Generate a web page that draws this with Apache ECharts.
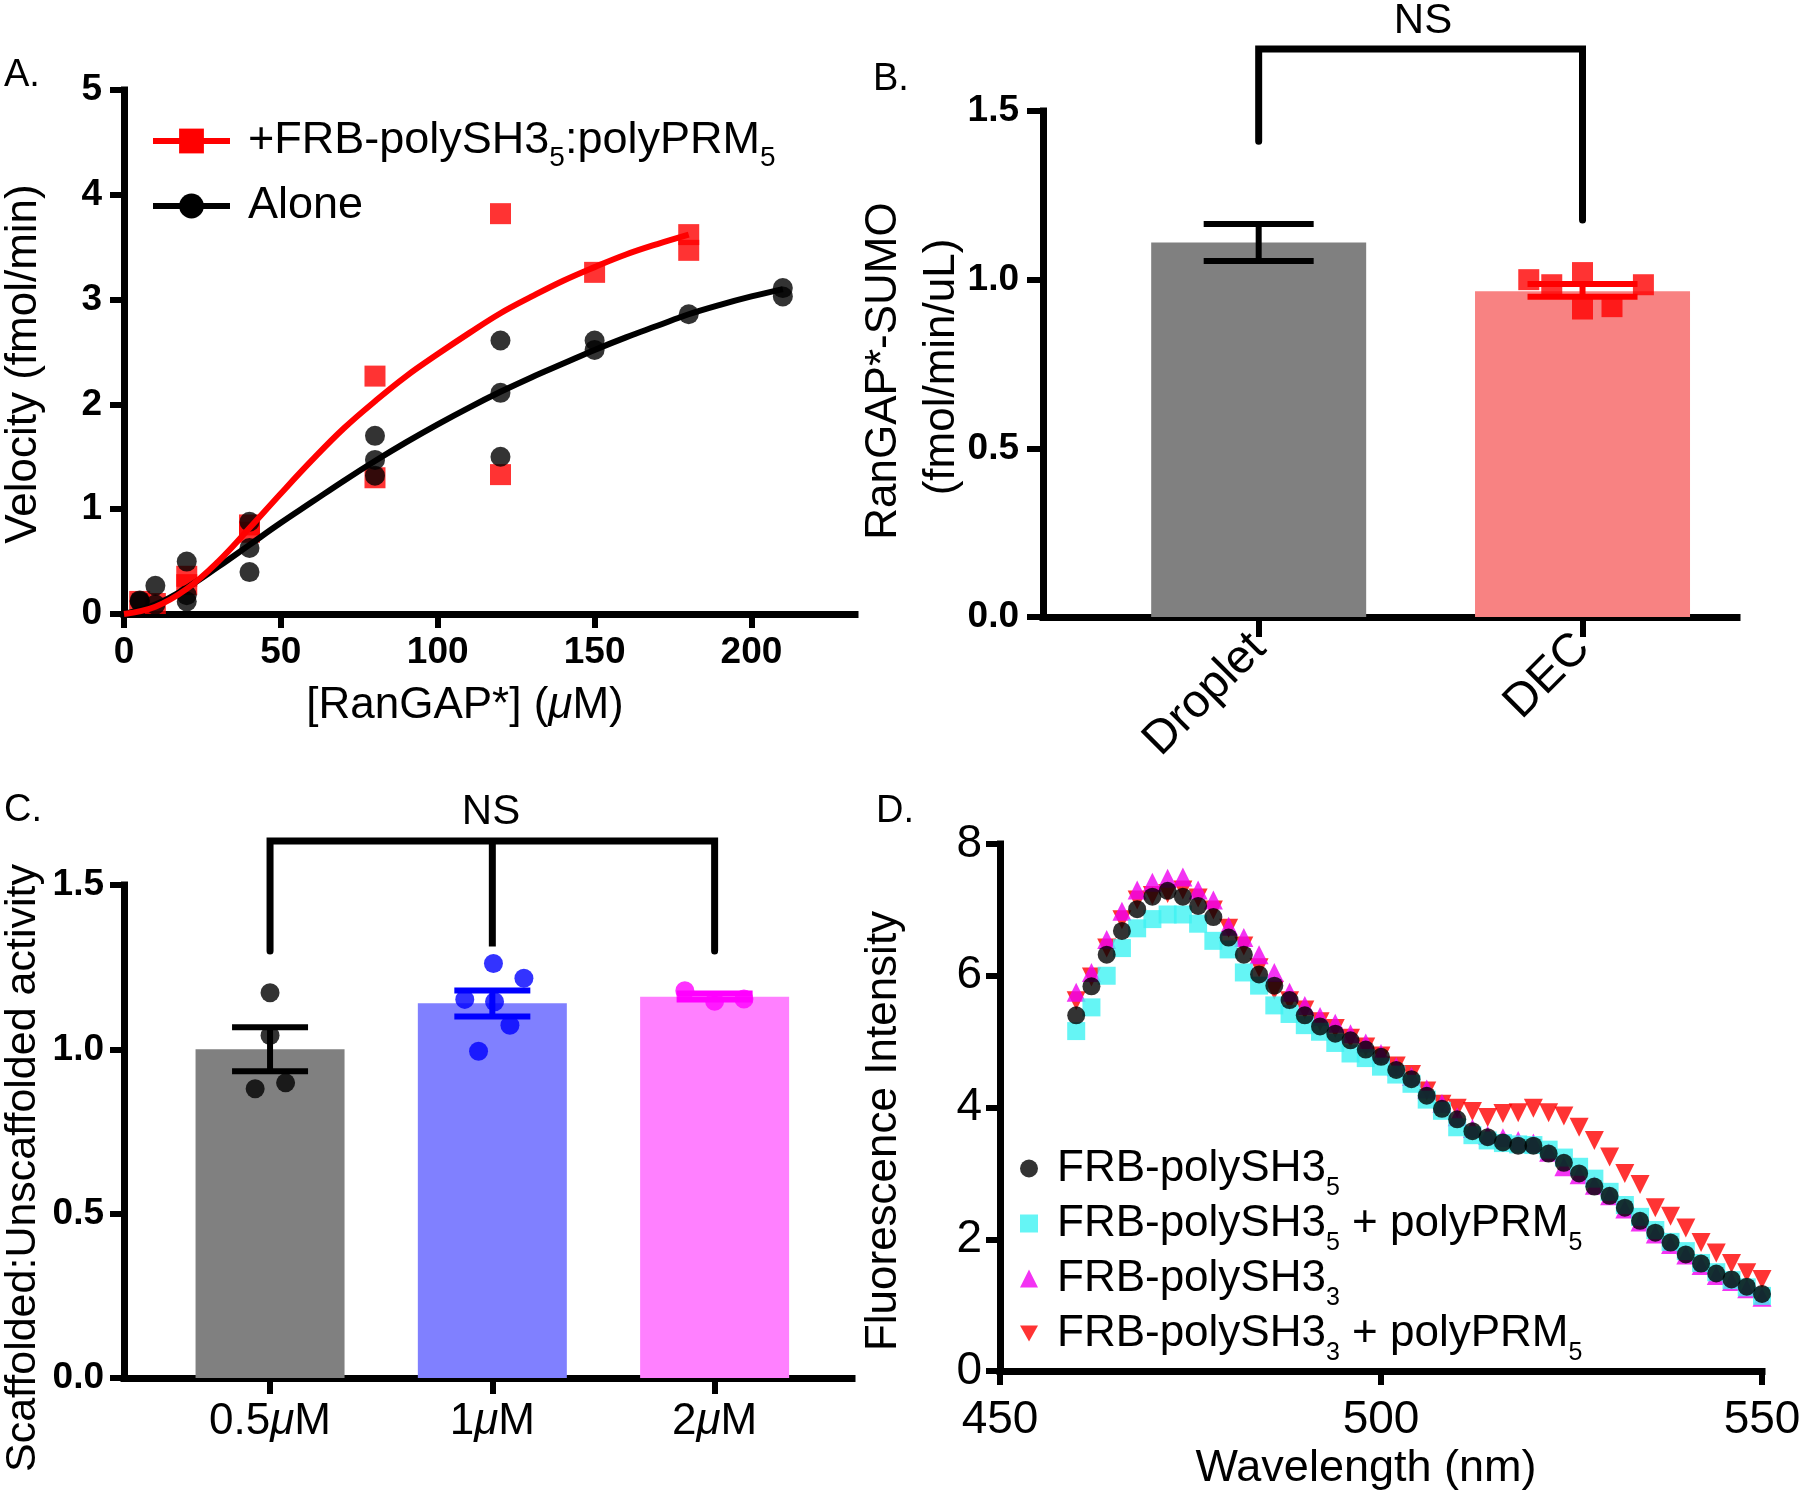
<!DOCTYPE html>
<html>
<head>
<meta charset="utf-8">
<script src="https://cdn.jsdelivr.net/npm/echarts@6/dist/echarts.min.js"></script>
<style>
html,body{margin:0;padding:0;background:#fff;}
#c{width:1800px;height:1495px;}
</style>
</head>
<body>
<div id="c"></div>
<script>
// ---------------- Panel A data ----------------
const aXTicks = [0, 50, 100, 150, 200];
const aNames = ['+FRB-polySH3_5:polyPRM_5', 'Alone'];
const aScafX = [5, 10, 20, 20, 40, 40, 80, 80, 120, 120, 150, 180, 180];
const aScafY = [0.12, 0.10, 0.28, 0.36, 0.78, 0.85, 2.27, 1.30, 3.82, 1.33, 3.26, 3.62, 3.47];
const aAloneX = [5, 5, 10, 10, 20, 20, 20, 40, 40, 40, 80, 80, 80, 120, 120, 120, 150, 150, 180, 210, 210];
const aAloneY = [0.13, 0.12, 0.27, 0.09, 0.50, 0.18, 0.12, 0.88, 0.63, 0.40, 1.70, 1.47, 1.32, 2.61, 2.11, 1.50, 2.61, 2.52, 2.86, 3.11, 3.03];
const aFitScafX = [0, 10, 20, 30, 40, 50, 60, 70, 80, 90, 100, 110, 120, 130, 140, 150, 160, 170, 180];
const aFitScafY = [0, 0.07, 0.24, 0.50, 0.82, 1.15, 1.47, 1.77, 2.03, 2.27, 2.48, 2.68, 2.87, 3.03, 3.18, 3.31, 3.43, 3.53, 3.62];
const aFitAloneX = [0, 10, 20, 30, 40, 50, 60, 70, 80, 90, 100, 110, 120, 130, 140, 150, 160, 170, 180, 190, 200, 210];
const aFitAloneY = [0, 0.09, 0.25, 0.45, 0.66, 0.87, 1.07, 1.27, 1.46, 1.64, 1.81, 1.97, 2.12, 2.26, 2.39, 2.52, 2.64, 2.75, 2.86, 2.95, 3.03, 3.10];

// ---------------- Panel B data ----------------
const bCategories = ['Droplet', 'DEC'];
const bMeans = [1.11, 0.966];
const bErrLow = [1.055, 0.949];
const bErrHigh = [1.165, 0.987];
const bDecPoints = [1.0, 0.985, 1.021, 0.913, 0.92, 0.985];
const bDecJitter = [-0.166, -0.095, 0, 0, 0.091, 0.188];
const bBracketX = [1, 1, 2, 2];
const bBracketY = [1.41, 1.684, 1.684, 1.177];

// ---------------- Panel C data ----------------
const cCategories = ['0.5μM', '1μM', '2μM'];
const cMeans = [1.0, 1.14, 1.16];
const cErrLow = [0.933, 1.10, 1.152];
const cErrHigh = [1.067, 1.179, 1.170];
const c05Points = [1.172, 1.042, 0.88, 0.898];
const c05Jitter = [0, 0, -0.067, 0.07];
const c1Points = [1.261, 1.216, 1.152, 1.145, 1.073, 0.994];
const c1Jitter = [0.005, 0.142, -0.124, 0.01, 0.079, -0.062];
const c2Points = [1.178, 1.146, 1.153];
const c2Jitter = [-0.134, 0, 0.132];
const cBracketX = [1, 1, 2, 2, 2, 3, 3];
const cBracketY = [1.299, 1.634, 1.634, 1.313, 1.634, 1.634, 1.299];

// ---------------- Panel D data ----------------
const dNames = ['FRB-polySH3_5', 'FRB-polySH3_5 + polyPRM_5', 'FRB-polySH3_3', 'FRB-polySH3_3 + polyPRM_5'];
const dWave = [460, 462, 464, 466, 468, 470, 472, 474, 476, 478,
               480, 482, 484, 486, 488, 490, 492, 494, 496, 498,
               500, 502, 504, 506, 508, 510, 512, 514, 516, 518,
               520, 522, 524, 526, 528, 530, 532, 534, 536, 538,
               540, 542, 544, 546, 548, 550];
const dSH35 = [5.40, 5.84, 6.32, 6.68, 7.01, 7.20, 7.29, 7.20, 7.06, 6.89,
               6.58, 6.32, 6.02, 5.85, 5.63, 5.40, 5.23, 5.12, 5.02, 4.88,
               4.77, 4.57, 4.43, 4.18, 3.98, 3.82, 3.64, 3.55, 3.47, 3.42,
               3.42, 3.30, 3.16, 3.00, 2.80, 2.66, 2.48, 2.28, 2.10, 1.95,
               1.77, 1.63, 1.48, 1.39, 1.28, 1.17];
const dSH35PRM = [5.16, 5.52, 6.00, 6.42, 6.72, 6.86, 6.93, 6.93, 6.79, 6.53,
                  6.40, 6.05, 5.85, 5.55, 5.42, 5.25, 5.15, 4.98, 4.82, 4.75,
                  4.62, 4.50, 4.36, 4.12, 3.95, 3.70, 3.58, 3.50, 3.46, 3.44,
                  3.43, 3.36, 3.24, 3.10, 2.92, 2.72, 2.52, 2.34, 2.14, 1.96,
                  1.82, 1.64, 1.50, 1.38, 1.27, 1.14];
const dSH33 = [5.75, 6.05, 6.55, 6.98, 7.30, 7.42, 7.48, 7.50, 7.30, 7.15,
               6.75, 6.58, 6.32, 6.05, 5.75, 5.55, 5.38, 5.28, 5.12, 4.98,
               4.82, 4.62, 4.47, 4.28, 4.06, 3.86, 3.68, 3.58, 3.54, 3.50,
               3.46, 3.32, 3.10, 2.98, 2.82, 2.66, 2.46, 2.26, 2.08, 1.92,
               1.76, 1.60, 1.45, 1.36, 1.25, 1.12];
const dSH33PRM = [5.62, 5.98, 6.42, 6.85, 7.15, 7.22, 7.25, 7.30, 7.18, 7.00,
                  6.72, 6.45, 6.12, 5.78, 5.62, 5.48, 5.30, 5.20, 5.05, 4.92,
                  4.78, 4.63, 4.50, 4.25, 4.05, 3.99, 3.94, 3.85, 3.91, 3.92,
                  3.99, 3.92, 3.87, 3.70, 3.50, 3.25, 3.00, 2.83, 2.48, 2.35,
                  2.17, 1.95, 1.79, 1.63, 1.49, 1.39];

// ---------------- styling ----------------
const FF = '"Liberation Sans", Arial, Helvetica, sans-serif';
const BLACK = '#000';
const RED = '#ff0000';
const B_BAR_COLORS = ['#808080', '#f88282'];
const B_ERR_COLORS = ['#000000', '#ff0000'];
const C_BAR_COLORS = ['#808080', '#8080ff', '#ff80ff'];
const C_PT_COLORS = ['#000000', '#0000ff', '#ff00ff'];
const D_COLORS = ['#000000', '#3ff3f3', '#f000f0', '#ff0000'];
const D_ICONS = ['circle', 'rect', 'triangle', 'path://M0,0 L20,0 L10,18 Z'];

const zip = (xs, ys) => xs.map((x, i) => [x, ys[i]]);
const subFmt = name => name.replace(/_(\d)/g, '{s|$1}');

function axisLine() { return { show: true, onZero: false, lineStyle: { color: BLACK, width: 7, cap: 'square' } }; }
function axisTick(len, custom) {
  const t = { show: true, length: len, lineStyle: { color: BLACK, width: 6 } };
  if (custom) t.customValues = custom;
  return t;
}
function boldLabel(margin, extra) {
  return Object.assign({ color: BLACK, fontFamily: FF, fontWeight: 'bold', fontSize: 37, margin: margin }, extra || {});
}
function regLabel(size, margin, extra) {
  return Object.assign({ color: BLACK, fontFamily: FF, fontSize: size, margin: margin }, extra || {});
}

function errRender(capHalf, colors) {
  return function (params, api) {
    const x = api.value(0), lo = api.value(1), hi = api.value(2);
    const pLo = api.coord([x, lo]), pHi = api.coord([x, hi]);
    const st = { stroke: colors[params.dataIndex], lineWidth: 6 };
    return {
      type: 'group',
      children: [
        { type: 'line', shape: { x1: pLo[0], y1: pLo[1], x2: pHi[0], y2: pHi[1] }, style: st },
        { type: 'line', shape: { x1: pLo[0] - capHalf, y1: pLo[1], x2: pLo[0] + capHalf, y2: pLo[1] }, style: st },
        { type: 'line', shape: { x1: pHi[0] - capHalf, y1: pHi[1], x2: pHi[0] + capHalf, y2: pHi[1] }, style: st }
      ]
    };
  };
}

function txt(text, x, y, size, opts) {
  opts = opts || {};
  return {
    type: 'text', x: x, y: y, rotation: opts.rotation || 0, z: 100,
    style: {
      text: text, fill: BLACK, fontFamily: FF, fontSize: size,
      fontWeight: opts.weight || 'normal',
      align: opts.align || 'center', verticalAlign: 'middle',
      rich: { i: { fontStyle: 'italic', fontSize: size, fontFamily: FF, fill: BLACK } }
    }
  };
}

const option = {
  animation: false,
  backgroundColor: '#fff',
  grid: [
    { left: 124, top: 90, width: 731, height: 524, outerBoundsMode: 'none' },
    { left: 1043, top: 111, width: 694, height: 506, outerBoundsMode: 'none' },
    { left: 124, top: 885, width: 728, height: 493, outerBoundsMode: 'none' },
    { left: 1000, top: 844, width: 762, height: 527, outerBoundsMode: 'none' }
  ],
  xAxis: [
    { gridIndex: 0, type: 'value', min: 0, max: 233,
      axisLine: axisLine(), axisTick: axisTick(14, aXTicks), splitLine: { show: false },
      axisLabel: boldLabel(20, { customValues: aXTicks }) },
    { gridIndex: 1, type: 'value', min: 0.334, max: 2.477,
      axisLine: axisLine(), axisTick: axisTick(20, [1, 2]), splitLine: { show: false },
      axisLabel: regLabel(47, 24, { customValues: [1, 2], rotate: 45,
        formatter: v => bCategories[Math.round(v) - 1] || '' }) },
    { gridIndex: 2, type: 'value', min: 0.343, max: 3.618,
      axisLine: axisLine(), axisTick: axisTick(16, [1, 2, 3]), splitLine: { show: false },
      axisLabel: regLabel(44, 22, { customValues: [1, 2, 3],
        formatter: v => (cCategories[Math.round(v) - 1] || '').replace('μ', '{i|μ}'),
        rich: { i: { fontStyle: 'italic', fontSize: 44, fontFamily: FF, color: BLACK } } }) },
    { gridIndex: 3, type: 'value', min: 450, max: 550, interval: 50,
      axisLine: axisLine(), axisTick: axisTick(14), splitLine: { show: false },
      axisLabel: regLabel(46, 26) }
  ],
  yAxis: [
    { gridIndex: 0, type: 'value', min: 0, max: 5, interval: 1,
      axisLine: axisLine(), axisTick: axisTick(14), splitLine: { show: false },
      axisLabel: boldLabel(22) },
    { gridIndex: 1, type: 'value', min: 0, max: 1.5, interval: 0.5,
      axisLine: axisLine(), axisTick: axisTick(16), splitLine: { show: false },
      axisLabel: boldLabel(24, { formatter: v => v.toFixed(1) }) },
    { gridIndex: 2, type: 'value', min: 0, max: 1.5, interval: 0.5,
      axisLine: axisLine(), axisTick: axisTick(14), splitLine: { show: false },
      axisLabel: boldLabel(20, { formatter: v => v.toFixed(1) }) },
    { gridIndex: 3, type: 'value', min: 0, max: 8, interval: 2,
      axisLine: axisLine(), axisTick: axisTick(14), splitLine: { show: false },
      axisLabel: regLabel(46, 18) }
  ],
  legend: [
    { data: aNames, orient: 'vertical', left: 145, top: 105,
      itemWidth: 77, itemHeight: 31, itemGap: 10, selectedMode: false,
      lineStyle: { width: 6 },
      formatter: subFmt,
      textStyle: { color: BLACK, fontFamily: FF, fontSize: 45, lineHeight: 48, padding: [0, 0, 0, 13],
        rich: { s: { fontSize: 28, lineHeight: 20, padding: [34, 0, 0, 0], fontFamily: FF, color: BLACK } } } },
    { data: dNames.map((n, i) => ({ name: n, icon: D_ICONS[i] })), orient: 'vertical', left: 1015, top: 1131,
      itemWidth: 18, itemHeight: 18, itemGap: -10, selectedMode: false,
      formatter: subFmt,
      textStyle: { color: BLACK, fontFamily: FF, fontSize: 44, lineHeight: 46, padding: [0, 0, 0, 14],
        rich: { s: { fontSize: 25, lineHeight: 20, padding: [40, 0, 0, 0], fontFamily: FF, color: BLACK } } } }
  ],
  series: [
    // ---- Panel A ----
    { type: 'line', name: aNames[1], xAxisIndex: 0, yAxisIndex: 0, data: zip(aFitAloneX, aFitAloneY),
      smooth: 0.4, symbol: 'circle', symbolSize: 20, showSymbol: false, silent: true,
      lineStyle: { color: BLACK, width: 6 }, itemStyle: { color: BLACK } },
    { type: 'line', name: aNames[0], xAxisIndex: 0, yAxisIndex: 0, data: zip(aFitScafX, aFitScafY),
      smooth: 0.4, symbol: 'rect', symbolSize: 20, showSymbol: false, silent: true,
      lineStyle: { color: RED, width: 6 }, itemStyle: { color: RED } },
    { type: 'scatter', xAxisIndex: 0, yAxisIndex: 0, data: zip(aScafX, aScafY),
      symbol: 'rect', symbolSize: 21, itemStyle: { color: RED }, silent: true },
    { type: 'scatter', xAxisIndex: 0, yAxisIndex: 0, data: zip(aAloneX, aAloneY),
      symbol: 'circle', symbolSize: 20, itemStyle: { color: BLACK }, silent: true },

    // ---- Panel B ----
    { type: 'bar', xAxisIndex: 1, yAxisIndex: 1, barWidth: 215, silent: true,
      data: bMeans.map((v, i) => ({ value: [i + 1, v], itemStyle: { color: B_BAR_COLORS[i] } })) },
    { type: 'scatter', xAxisIndex: 1, yAxisIndex: 1, silent: true,
      data: bDecPoints.map((v, i) => [2 + bDecJitter[i], v]),
      symbol: 'rect', symbolSize: 21, itemStyle: { color: RED } },
    { type: 'custom', xAxisIndex: 1, yAxisIndex: 1, silent: true, z: 5,
      encode: { x: 0, y: [1, 2] },
      data: bMeans.map((v, i) => [i + 1, bErrLow[i], bErrHigh[i]]),
      renderItem: errRender(55, B_ERR_COLORS) },
    { type: 'line', xAxisIndex: 1, yAxisIndex: 1, data: zip(bBracketX, bBracketY), clip: false,
      symbol: 'none', silent: true, lineStyle: { color: BLACK, width: 7, cap: 'round', join: 'miter' } },

    // ---- Panel C ----
    { type: 'bar', xAxisIndex: 2, yAxisIndex: 2, barWidth: 149, silent: true,
      data: cMeans.map((v, i) => ({ value: [i + 1, v], itemStyle: { color: C_BAR_COLORS[i] } })) },
    { type: 'scatter', xAxisIndex: 2, yAxisIndex: 2, silent: true, symbol: 'circle', symbolSize: 19,
      data: c05Points.map((v, i) => [1 + c05Jitter[i], v]), itemStyle: { color: C_PT_COLORS[0] } },
    { type: 'scatter', xAxisIndex: 2, yAxisIndex: 2, silent: true, symbol: 'circle', symbolSize: 19,
      data: c1Points.map((v, i) => [2 + c1Jitter[i], v]), itemStyle: { color: C_PT_COLORS[1] } },
    { type: 'scatter', xAxisIndex: 2, yAxisIndex: 2, silent: true, symbol: 'circle', symbolSize: 19,
      data: c2Points.map((v, i) => [3 + c2Jitter[i], v]), itemStyle: { color: C_PT_COLORS[2] } },
    { type: 'custom', xAxisIndex: 2, yAxisIndex: 2, silent: true, z: 5,
      encode: { x: 0, y: [1, 2] },
      data: cMeans.map((v, i) => [i + 1, cErrLow[i], cErrHigh[i]]),
      renderItem: errRender(38, C_PT_COLORS) },
    { type: 'line', xAxisIndex: 2, yAxisIndex: 2, data: zip(cBracketX, cBracketY), clip: false,
      symbol: 'none', silent: true, lineStyle: { color: BLACK, width: 7, cap: 'round', join: 'miter' } },

    // ---- Panel D ----
    { type: 'scatter', name: dNames[3], xAxisIndex: 3, yAxisIndex: 3, silent: true,
      data: zip(dWave, dSH33PRM), symbol: 'triangle', symbolRotate: 180, symbolSize: 19,
      itemStyle: { color: D_COLORS[3] } },
    { type: 'scatter', name: dNames[2], xAxisIndex: 3, yAxisIndex: 3, silent: true,
      data: zip(dWave, dSH33), symbol: 'triangle', symbolSize: 19,
      itemStyle: { color: D_COLORS[2] } },
    { type: 'scatter', name: dNames[1], xAxisIndex: 3, yAxisIndex: 3, silent: true,
      data: zip(dWave, dSH35PRM), symbol: 'rect', symbolSize: 18,
      itemStyle: { color: D_COLORS[1] } },
    { type: 'scatter', name: dNames[0], xAxisIndex: 3, yAxisIndex: 3, silent: true,
      data: zip(dWave, dSH35), symbol: 'circle', symbolSize: 18,
      itemStyle: { color: D_COLORS[0] } }
  ],
  graphic: [
    txt('A.', 4, 76, 38, { align: 'left' }),
    txt('B.', 873, 80, 38, { align: 'left' }),
    txt('C.', 4, 811, 38, { align: 'left' }),
    txt('D.', 876, 812, 38, { align: 'left' }),
    txt('NS', 1423, 21, 42),
    txt('NS', 491, 812, 42),
    txt('Velocity (fmol/min)', 24, 364, 44, { rotation: Math.PI / 2 }),
    txt('[RanGAP*] ({i|μ}M)', 465, 706, 44),
    txt('RanGAP*-SUMO', 884, 371, 44, { rotation: Math.PI / 2 }),
    txt('(fmol/min/uL)', 942, 367, 44, { rotation: Math.PI / 2 }),
    txt('Scaffolded:Unscaffolded activity', 23, 1168, 43, { rotation: Math.PI / 2 }),
    txt('Fluorescence Intensity', 884, 1131, 44, { rotation: Math.PI / 2 }),
    txt('Wavelength (nm)', 1366, 1469, 45)
  ]
};

const chart = echarts.init(document.getElementById('c'), null, { renderer: 'canvas', width: 1800, height: 1495 });
chart.setOption(option);
</script>
</body>
</html>
